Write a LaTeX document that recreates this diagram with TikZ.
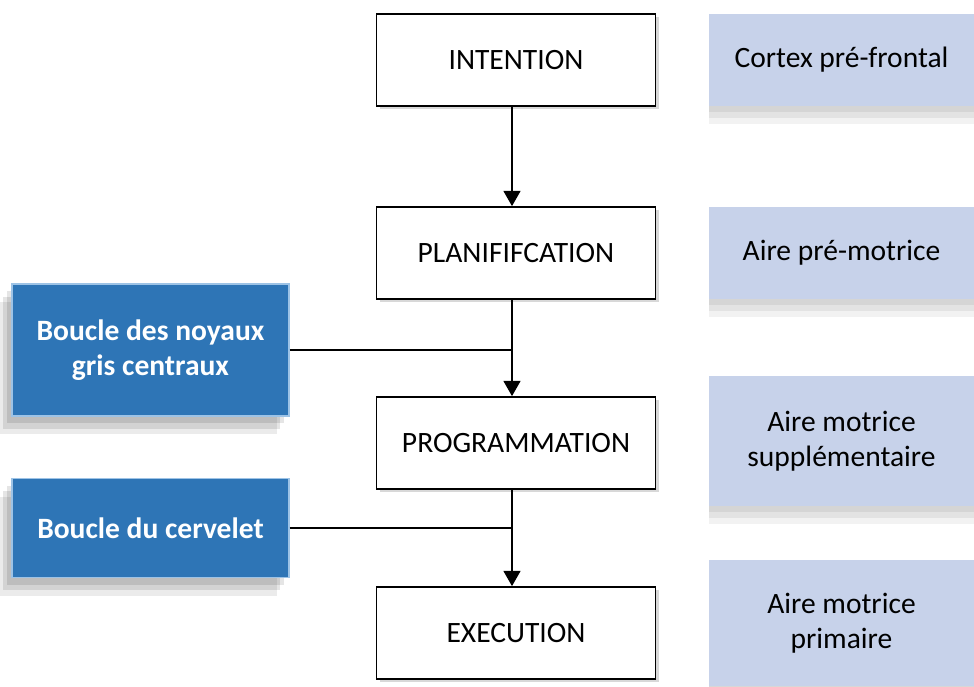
\documentclass[tikz,border=0pt]{standalone}
\usepackage{fontspec}
\setmainfont{Carlito}
\usetikzlibrary{shadows,arrows.meta}

\definecolor{loopblue}{HTML}{2E75B6}
\definecolor{loopedge}{HTML}{9DC3E6}
\definecolor{arealight}{HTML}{C7D2EA}

\tikzset{
  stage/.style={shape=rectangle,draw=black,line width=1.2pt,fill=white,
    minimum width=6.975cm,minimum height=2.3cm,
    font=\fontsize{21}{25}\selectfont,
    drop shadow={shadow xshift=0.08cm,shadow yshift=-0.08cm,opacity=0.3}},
  loopbox/.style={shape=rectangle,draw=loopedge,line width=0.8pt,fill=loopblue,
    text=white,align=center,minimum width=6.925cm,
    font=\fontsize{21}{25}\selectfont\bfseries,
    general shadow={shadow xshift=-0.3cm,shadow yshift=-0.45cm,fill=black,opacity=0.08},
    general shadow={shadow xshift=-0.22cm,shadow yshift=-0.32cm,fill=black,opacity=0.1},
    general shadow={shadow xshift=-0.12cm,shadow yshift=-0.18cm,fill=black,opacity=0.1}},
  areabox/.style={shape=rectangle,fill=arealight,align=center,
    minimum width=6.625cm,font=\fontsize{21}{25}\selectfont,
    general shadow={shadow yshift=-0.45cm,fill=black,opacity=0.05},
    general shadow={shadow yshift=-0.3cm,fill=black,opacity=0.06},
    general shadow={shadow yshift=-0.15cm,fill=black,opacity=0.06}},
  flow/.style={line width=1.4pt,-{Triangle[width=0.42cm,length=0.38cm]}}
}

\begin{document}
\begin{tikzpicture}[x=0.025cm,y=-0.025cm]
  \useasboundingbox[fill=white] (0,0) rectangle (974,686);

  % stages
  \node[stage] (intention) at (516,60) {INTENTION};
  \node[stage] (planif) at (516,253) {PLANIFIFCATION};
  \node[stage] (prog) at (516,443) {PROGRAMMATION};
  \node[stage] (exec) at (516,633) {EXECUTION};

  % loops
  \node[loopbox,minimum height=3.3cm] (noyaux) at (150.5,350) {Boucle des noyaux\\gris centraux};
  \node[loopbox,minimum height=2.475cm] (cervelet) at (150.5,528) {Boucle du cervelet};

  % cortical areas
  \node[areabox,minimum height=2.275cm] (prefrontal) at (841.5,60) {Cortex pré-frontal};
  \node[areabox,minimum height=2.3cm] (premotrice) at (841.5,253) {Aire pré-motrice};
  \node[areabox,minimum height=3.25cm] (supp) at (841.5,441) {Aire motrice\\supplémentaire};
  \node[areabox,minimum height=3.15cm] (primaire) at (841.5,623) {Aire motrice\\primaire};

  \draw[flow] ([xshift=-0.1cm]intention.south) -- ([xshift=-0.1cm]planif.north);
  \draw[flow] ([xshift=-0.1cm]planif.south) -- ([xshift=-0.1cm]prog.north);
  \draw[flow] ([xshift=-0.1cm]prog.south) -- ([xshift=-0.1cm]exec.north);
  \draw[line width=1.4pt] (noyaux.east) -- ([xshift=-0.1cm]noyaux.east -| planif.south);
  \draw[line width=1.4pt] (cervelet.east) -- ([xshift=-0.1cm]cervelet.east -| prog.south);
\end{tikzpicture}
\end{document}
